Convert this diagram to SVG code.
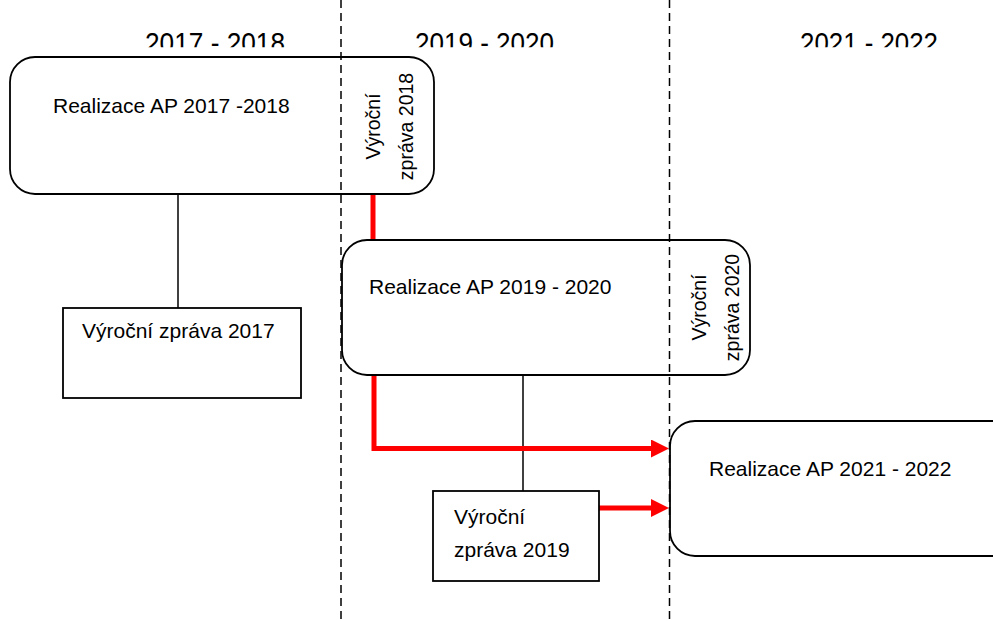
<svg xmlns="http://www.w3.org/2000/svg" width="993" height="621" viewBox="0 0 993 621">
<style>
text{font-family:"Liberation Sans",Arial,sans-serif;fill:#000}
.hdr{font-size:30px}
.lbl{font-size:21px}
.vl{font-size:19.5px;text-anchor:middle}
.box{fill:none;stroke:#000;stroke-width:1.8}
.conn{fill:none;stroke:#000;stroke-width:1.5}
.red{fill:none;stroke:#ff0000;stroke-width:5}
.dash{stroke:#000;stroke-width:1.5;stroke-dasharray:8 5}
</style>
<defs>
<clipPath id="hclip"><rect x="0" y="0" width="993" height="47.3"/></clipPath>
<marker id="arr" markerUnits="userSpaceOnUse" markerWidth="19" markerHeight="18" refX="0" refY="9" orient="auto">
<path d="M0,0 L18,9 L0,18 Z" fill="#ff0000"/>
</marker>
</defs>
<rect width="993" height="621" fill="#fff"/>
<g id="headers" clip-path="url(#hclip)">
<text class="hdr" x="145" y="53" textLength="140" lengthAdjust="spacingAndGlyphs">2017 - 2018</text>
<text class="hdr" x="415" y="53" textLength="139" lengthAdjust="spacingAndGlyphs">2019 - 2020</text>
<text class="hdr" x="800" y="53" textLength="138" lengthAdjust="spacingAndGlyphs">2021 - 2022</text>
</g>
<g id="connectors">
<line class="conn" x1="178" y1="194" x2="178" y2="308"/>
<line class="conn" x1="523" y1="375" x2="523" y2="491"/>
<line class="red" x1="373" y1="194" x2="373" y2="240"/>
<polyline class="red" points="374,375 374,448.5 651,448.5" marker-end="url(#arr)"/>
<line class="red" x1="599" y1="508" x2="651" y2="508" marker-end="url(#arr)"/>
</g>
<g id="ap2017">
<rect class="box" x="10" y="57" width="424" height="137" rx="25"/>
<text class="lbl" x="53" y="113">Realizace AP 2017 -2018</text>
</g>
<g id="vz2018">
<text class="vl" transform="translate(380,126.5) rotate(-90)">Výroční</text>
<text class="vl" transform="translate(413,126.5) rotate(-90)">zpráva 2018</text>
</g>
<g id="vz2017">
<rect class="box" x="63" y="308" width="238" height="90"/>
<text class="lbl" x="82" y="338">Výroční zpráva 2017</text>
</g>
<g id="ap2019">
<rect class="box" x="342" y="240" width="408" height="135" rx="25"/>
<text class="lbl" x="369" y="294">Realizace AP 2019 - 2020</text>
</g>
<g id="vz2020">
<text class="vl" transform="translate(706,307.5) rotate(-90)">Výroční</text>
<text class="vl" transform="translate(739,307.5) rotate(-90)">zpráva 2020</text>
</g>
<g id="vz2019">
<rect class="box" x="433" y="491" width="166" height="90"/>
<text class="lbl" x="454" y="524">Výroční</text>
<text class="lbl" x="454" y="557">zpráva 2019</text>
</g>
<g id="ap2021">
<rect class="box" x="670" y="421" width="360" height="135" rx="25"/>
<text class="lbl" x="709" y="476">Realizace AP 2021 - 2022</text>
</g>
<g id="dividers">
<line class="dash" x1="341" y1="0" x2="341" y2="621"/>
<line class="dash" x1="669.5" y1="0" x2="669.5" y2="621"/>
</g>
</svg>
